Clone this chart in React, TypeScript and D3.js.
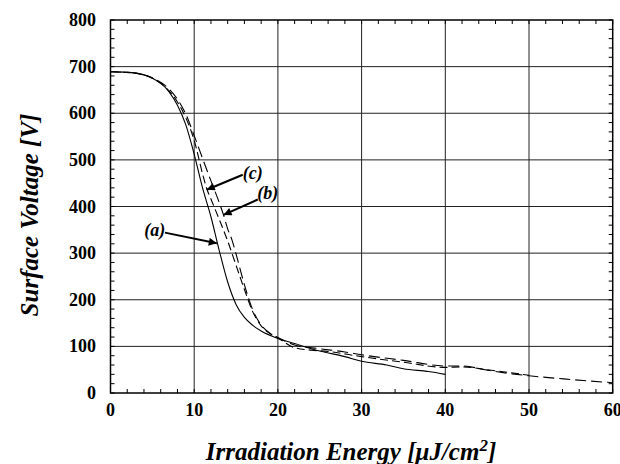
import React from 'react'
import * as d3 from 'd3'

// curve (a) solid, (b) and (c) dashed  [energy, voltage]
const curveA: [number, number][] = [
    [0, 689], [2, 688], [3, 686], [4, 682], [5, 675], [6, 664], [7, 646], [8, 617], [9, 575],
    [10, 512], [11, 440], [12, 378], [13, 305], [14, 238], [15, 190], [16, 162], [17, 145],
    [18, 133], [20, 117], [22, 106], [25, 90], [28, 78], [30, 68], [33, 60], [35, 52], [38, 46], [40, 40],
]
const curveB: [number, number][] = [
    [0, 689], [3, 686], [5, 676], [7, 652], [8, 630], [9, 598], [10, 552], [11, 503], [12, 455],
    [13, 408], [13.5, 382], [14, 352], [14.5, 329], [15, 298], [16, 232], [17, 178], [18, 146],
    [19, 129], [20, 119], [22, 103], [25, 95], [28, 88], [30, 82], [35, 70], [40, 58], [42, 58],
    [45, 49], [48, 41], [50, 37], [55, 29], [60, 22],
]
const curveC: [number, number][] = [
    [0, 689], [3, 686], [5, 675], [7, 648], [8, 624], [9, 590], [10, 542], [11, 470], [11.5, 438],
    [12, 416], [13, 372], [14, 326], [15, 274], [16, 222], [17, 174], [18, 144], [19, 128],
    [20, 118], [22, 97], [24, 92], [26, 89], [30, 78], [35, 66], [40, 55], [42, 56], [45, 50], [50, 38],
]

const xTicks = [0, 10, 20, 30, 40, 50, 60]
const yTicks = [0, 100, 200, 300, 400, 500, 600, 700, 800]

// label text, label centre, arrow tail, arrow tip (data units)
const notes = [
    { text: '(c)', at: [17.0, 472], from: [15.8, 468], to: [11.5, 436] },
    { text: '(b)', at: [18.8, 430], from: [17.6, 415], to: [13.5, 382] },
    { text: '(a)', at: [5.3, 350], from: [6.5, 344], to: [12.7, 321] },
]

const font = { fontFamily: "'Liberation Serif', Tinos, 'Times New Roman', Times, serif" }

export default function App() {
    const width = 620
    const height = 464
    const margin = { top: 20, right: 7.3, bottom: 71, left: 110.5 }

    const x = d3.scaleLinear().domain([0, 60]).range([margin.left, width - margin.right])
    const y = d3.scaleLinear().domain([0, 800]).range([height - margin.bottom, margin.top])

    const line = d3
        .line<[number, number]>()
        .x((d) => x(d[0]))
        .y((d) => y(d[1]))
        .curve(d3.curveMonotoneX)

    const xMinor = d3.range(0, 61, 2)
    const yMinor = d3.range(0, 801, 20)
    const tl = 4

    return (
        <svg width={width} height={height} style={{ position: 'absolute', left: 0, top: 0, background: '#fff' }}>
            <defs>
                <marker id="head" viewBox="0 0 10 10" refX="10" refY="5" markerWidth="6" markerHeight="4"
                    orient="auto" markerUnits="strokeWidth">
                    <path d="M0,0 L10,5 L0,10 z" fill="#000" />
                </marker>
            </defs>

            {/* grid */}
            {xTicks.slice(1, -1).map((t) => (
                <line key={'gx' + t} x1={x(t)} x2={x(t)} y1={y(0)} y2={y(800)} stroke="#222" strokeWidth={1} />
            ))}
            {yTicks.slice(1, -1).map((t) => (
                <line key={'gy' + t} x1={x(0)} x2={x(60)} y1={y(t)} y2={y(t)} stroke="#222" strokeWidth={1} />
            ))}

            {/* minor ticks on all sides */}
            {xMinor.map((t) => (
                <g key={'tx' + t}>
                    <line x1={x(t)} x2={x(t)} y1={y(0)} y2={y(0) - tl} stroke="#000" />
                    <line x1={x(t)} x2={x(t)} y1={y(800)} y2={y(800) + tl} stroke="#000" />
                </g>
            ))}
            {yMinor.map((t) => (
                <g key={'ty' + t}>
                    <line x1={x(0)} x2={x(0) + tl} y1={y(t)} y2={y(t)} stroke="#000" />
                    <line x1={x(60)} x2={x(60) - tl} y1={y(t)} y2={y(t)} stroke="#000" />
                </g>
            ))}

            <rect x={x(0)} y={y(800)} width={x(60) - x(0)} height={y(0) - y(800)} fill="none" stroke="#000" strokeWidth={1.5} />

            {/* curves */}
            <path d={line(curveA) ?? ''} fill="none" stroke="#000" strokeWidth={1.1} />
            <path d={line(curveB) ?? ''} fill="none" stroke="#000" strokeWidth={1.1} strokeDasharray="11,5" />
            <path d={line(curveC) ?? ''} fill="none" stroke="#000" strokeWidth={1.1} strokeDasharray="8,4" />

            <g style={font}>
                {/* annotations */}
                {notes.map((n) => (
                    <g key={n.text}>
                        <line x1={x(n.from[0])} y1={y(n.from[1])} x2={x(n.to[0])} y2={y(n.to[1])}
                            stroke="#000" strokeWidth={2} markerEnd="url(#head)" />
                        <text x={x(n.at[0])} y={y(n.at[1])} dy="0.35em" textAnchor="middle"
                            fontWeight="bold" fontStyle="italic" fontSize={18}>{n.text}</text>
                    </g>
                ))}

                {/* tick labels */}
                {xTicks.map((t) => (
                    <text key={'lx' + t} x={x(t)} y={416} textAnchor="middle" fontWeight="bold" fontSize={18}>{t}</text>
                ))}
                {yTicks.map((t) => (
                    <text key={'ly' + t} x={96} y={y(t)} dy="0.34em" textAnchor="end" fontWeight="bold" fontSize={18}>{t}</text>
                ))}

                {/* axis titles */}
                <text x={351} y={460} textAnchor="middle" fontWeight="bold" fontStyle="italic" fontSize={25}>
                    Irradiation Energy [μJ/cm<tspan dy={-9} fontSize={17}>2</tspan><tspan dy={9}>]</tspan>
                </text>
                <text transform="translate(38,215) rotate(-90)" textAnchor="middle" fontWeight="bold"
                    fontStyle="italic" fontSize={25}>
                    Surface Voltage [V]
                </text>
            </g>
        </svg>
    )
}
